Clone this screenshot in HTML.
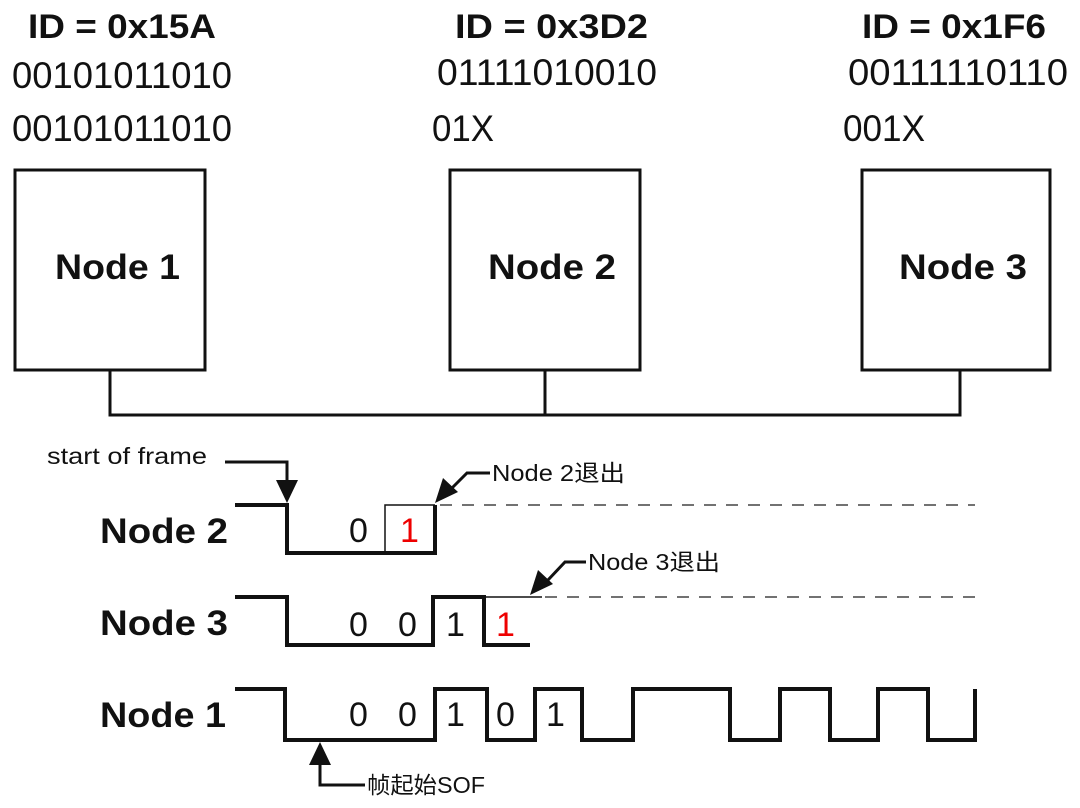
<!DOCTYPE html>
<html><head><meta charset="utf-8"><style>body{margin:0;background:#fff}svg{display:block}</style></head><body>
<svg width="1080" height="808" viewBox="0 0 1080 808" xmlns="http://www.w3.org/2000/svg" font-family="Liberation Sans, Noto Sans CJK SC, sans-serif" fill="#111">
<g font-weight="bold" font-size="34">
<text x="28" y="38" textLength="188" lengthAdjust="spacingAndGlyphs">ID = 0x15A</text>
<text x="455" y="38" textLength="193" lengthAdjust="spacingAndGlyphs">ID = 0x3D2</text>
<text x="862" y="38" textLength="184" lengthAdjust="spacingAndGlyphs">ID = 0x1F6</text>
</g>
<g font-size="37">
<text x="12" y="88" textLength="220" lengthAdjust="spacingAndGlyphs">00101011010</text>
<text x="12" y="141" textLength="220" lengthAdjust="spacingAndGlyphs">00101011010</text>
<text x="437" y="85" textLength="220" lengthAdjust="spacingAndGlyphs">01111010010</text>
<text x="432" y="141" textLength="62" lengthAdjust="spacingAndGlyphs">01X</text>
<text x="848" y="85" textLength="220" lengthAdjust="spacingAndGlyphs">00111110110</text>
<text x="843" y="141" textLength="82" lengthAdjust="spacingAndGlyphs">001X</text>
</g>
<g fill="none" stroke="#111" stroke-width="3">
<rect x="15" y="170" width="190" height="200"/>
<rect x="450" y="170" width="190" height="200"/>
<rect x="862" y="170" width="188" height="200"/>
<path d="M110 370V415H960V370M545 370V415"/>
</g>
<g font-weight="bold" font-size="35">
<text x="55" y="279" textLength="125" lengthAdjust="spacingAndGlyphs">Node 1</text>
<text x="488" y="279" textLength="128" lengthAdjust="spacingAndGlyphs">Node 2</text>
<text x="899" y="279" textLength="128" lengthAdjust="spacingAndGlyphs">Node 3</text>
<text x="100" y="543" textLength="128" lengthAdjust="spacingAndGlyphs">Node 2</text>
<text x="100" y="635" textLength="128" lengthAdjust="spacingAndGlyphs">Node 3</text>
<text x="100" y="727" textLength="126" lengthAdjust="spacingAndGlyphs">Node 1</text>
</g>
<g font-size="23">
<text x="47" y="464" textLength="160" lengthAdjust="spacingAndGlyphs">start of frame</text>
<text x="492" y="481" textLength="133" lengthAdjust="spacingAndGlyphs">Node 2退出</text>
<text x="588" y="570" textLength="132" lengthAdjust="spacingAndGlyphs">Node 3退出</text>
<text x="367" y="793" textLength="118" lengthAdjust="spacingAndGlyphs">帧起始SOF</text>
</g>
<g fill="none" stroke="#111">
<path stroke-width="4" d="M235 505H287V553H435V505"/>
<path stroke-width="1.5" d="M385 553V505H435"/>
<path stroke-width="1.5" stroke-dasharray="12 10" stroke="#444" d="M440 505H975M545 597H975"/>
<path stroke-width="4" d="M235 597H287V645H433V597H484V645H530"/>
<path stroke-width="1.5" d="M484 597H542"/>
<path stroke-width="4" d="M235 689H285V740H435V689H487V740H535V689H582V740H633V689H730V740H780V689H830V740H878V689H928V740H975V689"/>
<path stroke-width="3" d="M225 462H287V480"/>
<path stroke-width="3" d="M490 473H467L450 490"/>
<path stroke-width="3" d="M586 562H565L548 580"/>
<path stroke-width="3" d="M320 758V785H365"/>
</g>
<g fill="#111">
<polygon points="276,480 298,480 287,503"/>
<polygon points="435,503 443,478 458,492"/>
<polygon points="530,595 538,570 553,584"/>
<polygon points="320,742 309,765 331,765"/>
</g>
<g font-size="34">
<text x="349" y="542">0</text>
<text x="400" y="542" fill="#e00">1</text>
<text x="349" y="636">0</text>
<text x="398" y="636">0</text>
<text x="446" y="636">1</text>
<text x="496" y="636" fill="#e00">1</text>
<text x="349" y="726">0</text>
<text x="398" y="726">0</text>
<text x="446" y="726">1</text>
<text x="496" y="726">0</text>
<text x="546" y="726">1</text>
</g>
</svg>
</body></html>
